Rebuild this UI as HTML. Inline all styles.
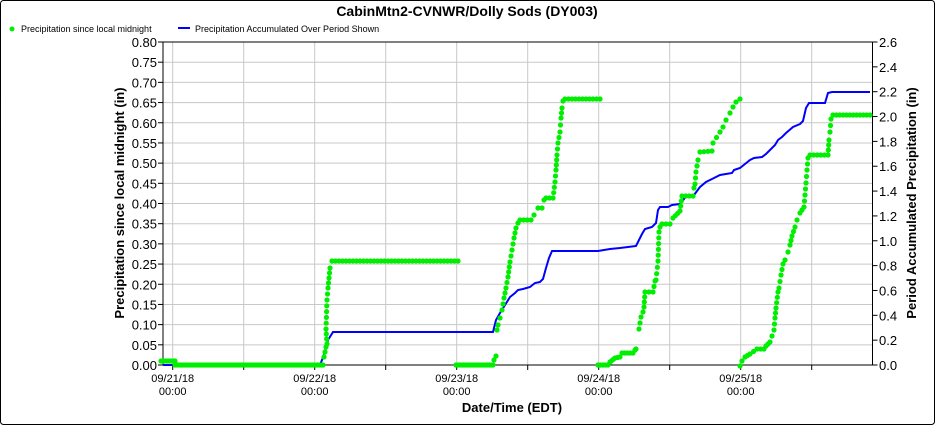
<!DOCTYPE html>
<html><head><meta charset="utf-8"><style>
html,body{margin:0;padding:0;background:#fff;}
svg{display:block;font-family:"Liberation Sans",sans-serif;}
</style></head><body>
<svg id="s" width="935" height="425" viewBox="0 0 935 425" xmlns="http://www.w3.org/2000/svg">
<rect x="0.5" y="0.5" width="934" height="424" rx="3" fill="#fff" stroke="#000"/>
<text x="467" y="16" text-anchor="middle" font-size="14" font-weight="bold">CabinMtn2-CVNWR/Dolly Sods (DY003)</text>
<circle cx="12" cy="29" r="2.5" fill="#00ee00"/>
<text x="21" y="32" font-size="9">Precipitation since local midnight</text>
<line x1="178" y1="28" x2="190" y2="28" stroke="#0000ff" stroke-width="2"/>
<text x="195" y="32" font-size="9">Precipitation Accumulated Over Period Shown</text>
<g id="grid" stroke="#c8c8c8" stroke-width="1"></g>
<g id="ax" stroke="#000" stroke-width="1"></g>
<g id="lbl" font-size="13"></g>
<polyline id="blue" fill="none" stroke="#0000ff" stroke-width="2"/>
<g id="dots" fill="#00ee00"></g>
<text transform="translate(124,203) rotate(-90)" text-anchor="middle" font-size="13" font-weight="bold">Precipitation since local midnight (in)</text>
<text transform="translate(916,203) rotate(-90)" text-anchor="middle" font-size="13" font-weight="bold">Period Accumulated Precipitation (in)</text>
<text x="512" y="412" text-anchor="middle" font-size="13" font-weight="bold">Date/Time (EDT)</text>
</svg>
<script>
var NS="http://www.w3.org/2000/svg";
function el(p,t,a,txt){var e=document.createElementNS(NS,t);for(var k in a)e.setAttribute(k,a[k]);if(txt!=null)e.textContent=txt;document.getElementById(p).appendChild(e);return e;}
var L=163,R=872.5,T=42,B=365;
for(var i=0;i<=16;i++){var y=B-i*(B-T)/16;el("grid","line",{x1:L,x2:R,y1:y,y2:y});el("ax","line",{x1:158,x2:L,y1:y,y2:y});
el("lbl","text",{x:157,y:y+5,"text-anchor":"end"},(i*0.05).toFixed(2));}
for(var i=0;i<=13;i++){var y=B-i*(B-T)/13;el("ax","line",{x1:R,x2:R+5,y1:y,y2:y});
el("lbl","text",{x:879,y:y+5},(i*0.2).toFixed(1));}
for(var i=0;i<10;i++){var x=172.7+i*71;el("grid","line",{x1:x,x2:x,y1:T,y2:B});el("ax","line",{x1:x,x2:x,y1:B,y2:B+5});}
el("ax","line",{x1:L,x2:R,y1:T,y2:T});el("ax","line",{x1:L,x2:L,y1:T,y2:B});el("ax","line",{x1:R,x2:R,y1:T,y2:B});el("ax","line",{x1:L,x2:R,y1:B,y2:B});
var days=["09/21/18","09/22/18","09/23/18","09/24/18","09/25/18"];
for(var i=0;i<5;i++){var x=172.7+i*142;el("lbl","text",{x:x,y:382,"text-anchor":"middle","font-size":"11"},days[i]);el("lbl","text",{x:x,y:395,"text-anchor":"middle","font-size":"11"},"00:00");}
var blue=[[163,365],[320,365],[324,355],[328,340],[333,332],[493,332],[496,320],[500,313],[505,305],[510,297],[515,293],[518,290],[523,289],[530,287],[535,283],[540,282],[543,279],[546,268],[549,258],[552,251],[598,251],[610,249],[620,248],[636,246],[639,240],[642,234],[645,229],[652,227],[656,223],[658,210],[660,207],[668,207],[672,205],[680,204],[684,199],[686,196],[694,195],[700,187],[706,182],[712,179],[720,175],[726,174],[732,173],[734,170],[740,168],[750,160],[754,158],[762,157],[766,154],[770,150],[775,145],[778,140],[782,137],[786,133],[793,127],[800,124],[803,121],[806,108],[809,103],[825,103],[828,93],[832,92],[870,92]];
document.getElementById("blue").setAttribute("points",blue.map(function(p){return p.join(",");}).join(" "));
function seg(pts,step){for(var i=0;i<pts.length-1;i++){var a=pts[i],b=pts[i+1];var dx=b[0]-a[0],dy=b[1]-a[1];var d=Math.hypot(dx,dy);
var st=Math.abs(dy)>1.5*Math.abs(dx)?6:step;var n=Math.max(1,Math.round(d/st));
for(var j=0;j<n;j++){var t=j/n;el("dots","circle",{cx:a[0]+t*dx,cy:a[1]+t*dy,r:2.6});}}
var l=pts[pts.length-1];el("dots","circle",{cx:l[0],cy:l[1],r:2.6});}
seg([[161,361],[175,361]],2);
seg([[175,365],[323,365]],2);
seg([[324,357],[325,352],[326,347],[327,344],[326,329],[327,300],[328,288],[329,278],[330,268],[332,261],[458,261]],3.5);
seg([[456,365],[493,365],[494,360],[496,356]],2);
seg([[497,330],[498,325],[500,318],[502,310],[504,298],[506,288],[508,277],[510,262],[512,250],[514,238],[516,228],[518,223],[520,220],[531,220],[534,215],[538,208],[542,208],[544,200],[546,198],[553,198],[555,182],[556,170],[557,155],[558,143],[560,132],[561,118],[562,108],[563,101],[565,99],[600,99]],3.5);
seg([[598,365],[608,365],[610,362],[615,358],[620,357],[622,353],[633,353],[635,350],[636,349]],2.5);
seg([[639,329],[641,317],[643,312],[644,307],[645,292],[653,292],[655,281],[656,280],[658,261],[659,232],[660,227],[662,224],[670,224],[673,218],[680,211],[682,196],[693,196],[694,188],[695,184],[696,172],[698,160],[700,152],[712,151],[713,143],[720,132],[723,127],[726,120],[730,113],[733,107],[736,102],[740,99]],3.5);
seg([[740,366],[742,361],[745,357],[750,354],[757,349],[764,349],[766,346],[770,342],[774,330],[775,318],[776,308],[778,292],[779,288],[781,275],[783,264],[785,260],[788,252],[790,245],[792,236],[795,227],[797,220],[800,213],[804,207],[806,183],[807,170],[808,158],[810,155],[828,155],[829,140],[830,132],[831,119],[833,115],[870,115]],3.5);
</script>
</body></html>
